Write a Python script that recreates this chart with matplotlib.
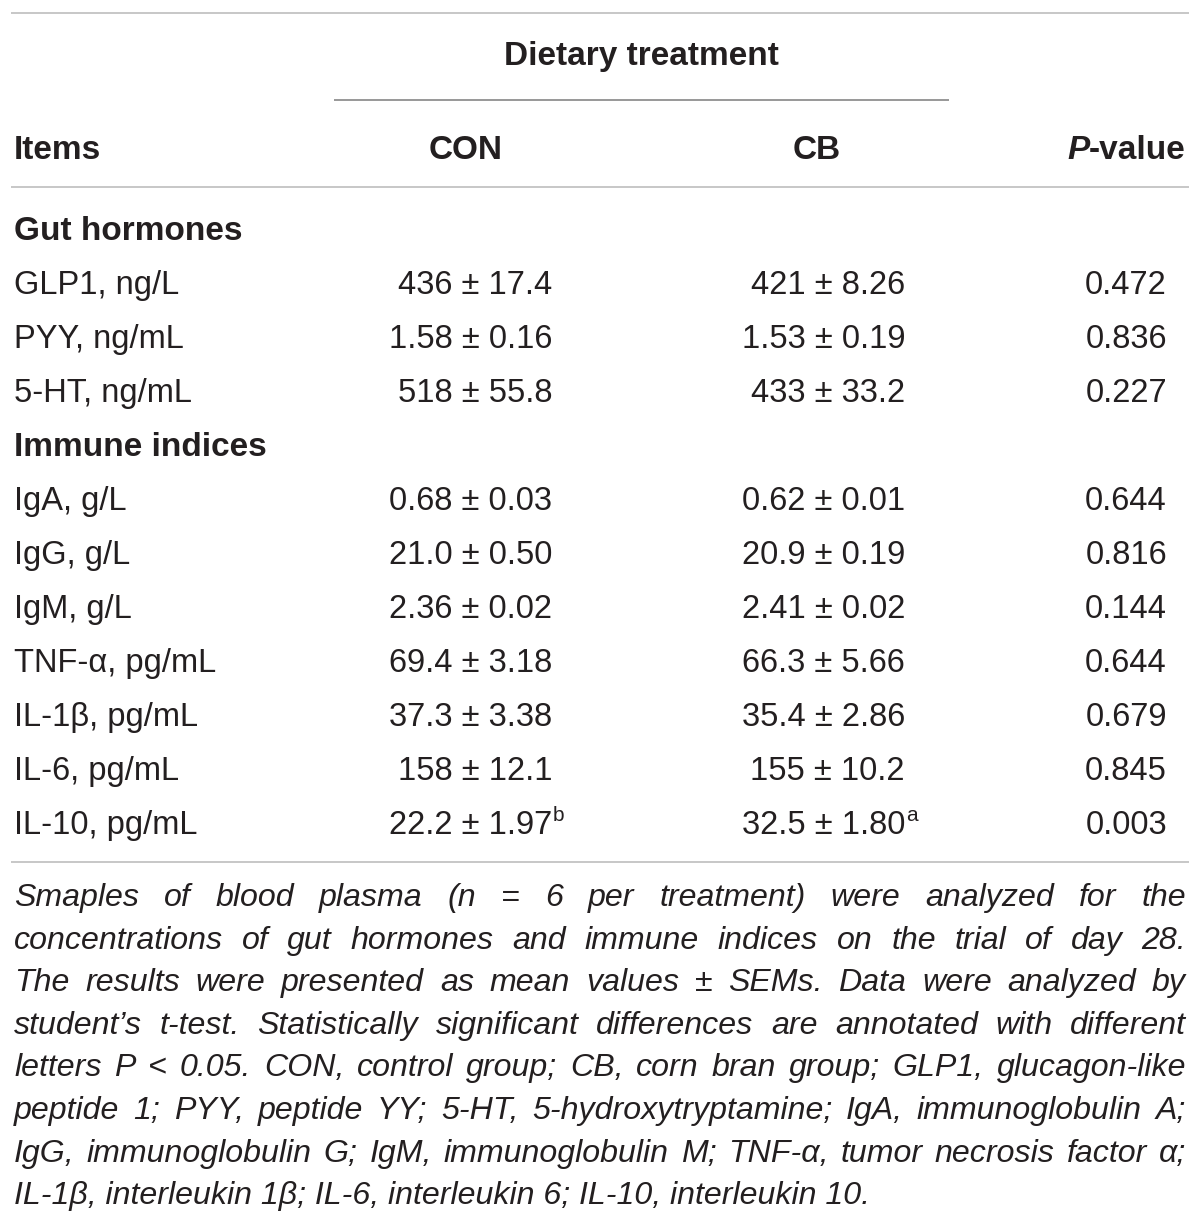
import matplotlib
matplotlib.use("Agg")
import matplotlib.pyplot as plt
from matplotlib.lines import Line2D

# table contents
groups = ["Gut hormones", "Immune indices"]
items = [["GLP1, ng/L", "PYY, ng/mL", "5-HT, ng/mL"],
         ["IgA, g/L", "IgG, g/L", "IgM, g/L", "TNF-\u03b1, pg/mL",
          "IL-1\u03b2, pg/mL", "IL-6, pg/mL", "IL-10, pg/mL"]]
con_mean = ["436", "1.58", "518", "0.68", "21.0", "2.36", "69.4", "37.3", "158", "22.2"]
con_sem = ["17.4", "0.16", "55.8", "0.03", "0.50", "0.02", "3.18", "3.38", "12.1", "1.97"]
cb_mean = ["421", "1.53", "433", "0.62", "20.9", "2.41", "66.3", "35.4", "155", "32.5"]
cb_sem = ["8.26", "0.19", "33.2", "0.01", "0.19", "0.02", "5.66", "2.86", "10.2", "1.80"]
p_values = ["0.472", "0.836", "0.227", "0.644", "0.816", "0.144", "0.644", "0.679", "0.845", "0.003"]
con_sup = ["", "", "", "", "", "", "", "", "", "b"]
cb_sup = ["", "", "", "", "", "", "", "", "", "a"]

footnote = [
    "Smaples of blood plasma (n = 6 per treatment) were analyzed for the",
    "concentrations of gut hormones and immune indices on the trial of day 28.",
    "The results were presented as mean values \u00b1 SEMs. Data were analyzed by",
    "student\u2019s t-test. Statistically significant differences are annotated with different",
    "letters P < 0.05. CON, control group; CB, corn bran group; GLP1, glucagon-like",
    "peptide 1; PYY, peptide YY; 5-HT, 5-hydroxytryptamine; IgA, immunoglobulin A;",
    "IgG, immunoglobulin G; IgM, immunoglobulin M; TNF-\u03b1, tumor necrosis factor \u03b1;",
    "IL-1\u03b2, interleukin 1\u03b2; IL-6, interleukin 6; IL-10, interleukin 10.",
]

W, H = 1200, 1225
FONT = "Liberation Sans"
INK = "#231f20"
FS = 23.5
FS_BOLD = 24

fig = plt.figure(figsize=(W / 100, H / 100), dpi=100)
fig.patch.set_facecolor("white")
r = fig.canvas.get_renderer()


def px(x, y):
    return x / W, 1 - y / H


def txt(x, y, s, **kw):
    kw.setdefault("fontsize", FS)
    kw.setdefault("color", INK)
    kw.setdefault("family", FONT)
    kw.setdefault("va", "baseline")
    return fig.text(*px(x, y), s, **kw)


def hline(x0, x1, y, color, lw=2):
    fig.add_artist(Line2D([x0 / W, x1 / W], [1 - y / H, 1 - y / H],
                          color=color, lw=lw * 0.72, transform=fig.transFigure))


def width(t):
    return t.get_window_extent(renderer=r).width


# rules
hline(12, 1188, 13, "#c8c8c8")
hline(335, 948, 100, "#9a9a9a")
hline(12, 1188, 187, "#c8c8c8")
hline(12, 1188, 862, "#c8c8c8")

# header
txt(641, 65, "Dietary treatment", ha="center", weight="bold", fontsize=FS_BOLD)
txt(14, 159, "Items", weight="bold", fontsize=FS_BOLD)
txt(466, 159, "CON", ha="center", weight="bold", fontsize=FS_BOLD)
txt(817, 159, "CB", ha="center", weight="bold", fontsize=FS_BOLD)
t = txt(1186, 159, "-value", ha="right", weight="bold", fontsize=FS_BOLD)
txt(1186 - width(t), 159, "P", ha="right", weight="bold", style="italic",
    fontsize=FS_BOLD)

# body
y = 240
k = 0
for g, rows in zip(groups, items):
    txt(14, y, g, weight="bold", fontsize=FS_BOLD)
    y += 54
    for name in rows:
        txt(14, y, name)
        txt(552, y, con_mean[k] + " \u00b1 " + con_sem[k], ha="right")
        txt(905, y, cb_mean[k] + " \u00b1 " + cb_sem[k], ha="right")
        txt(1167, y, p_values[k], ha="right")
        if con_sup[k]:
            txt(553, y - 13, con_sup[k], fontsize=15)
        if cb_sup[k]:
            txt(906, y - 13, cb_sup[k], fontsize=15)
        k += 1
        y += 54

# footnote, justified italic; size fitted so the last line ends near x=868
left, right = 14, 1186
probe = txt(0, 0, footnote[-1], style="italic", fontsize=20)
fs_fn = 20 * 854 / width(probe)
probe.remove()
for i, line in enumerate(footnote):
    yb = 906 + i * 42.6
    if i == len(footnote) - 1:
        txt(left, yb, line, style="italic", fontsize=fs_fn)
        continue
    words = line.split(" ")
    arts = [txt(0, yb, w_, style="italic", fontsize=fs_fn) for w_ in words]
    ws = [width(a) for a in arts]
    gap = (right - left - sum(ws)) / (len(words) - 1)
    x = left
    for a, w_ in zip(arts, ws):
        a.set_position(px(x, yb))
        x += w_ + gap

fig.savefig("out.png", dpi=100, facecolor="white")
